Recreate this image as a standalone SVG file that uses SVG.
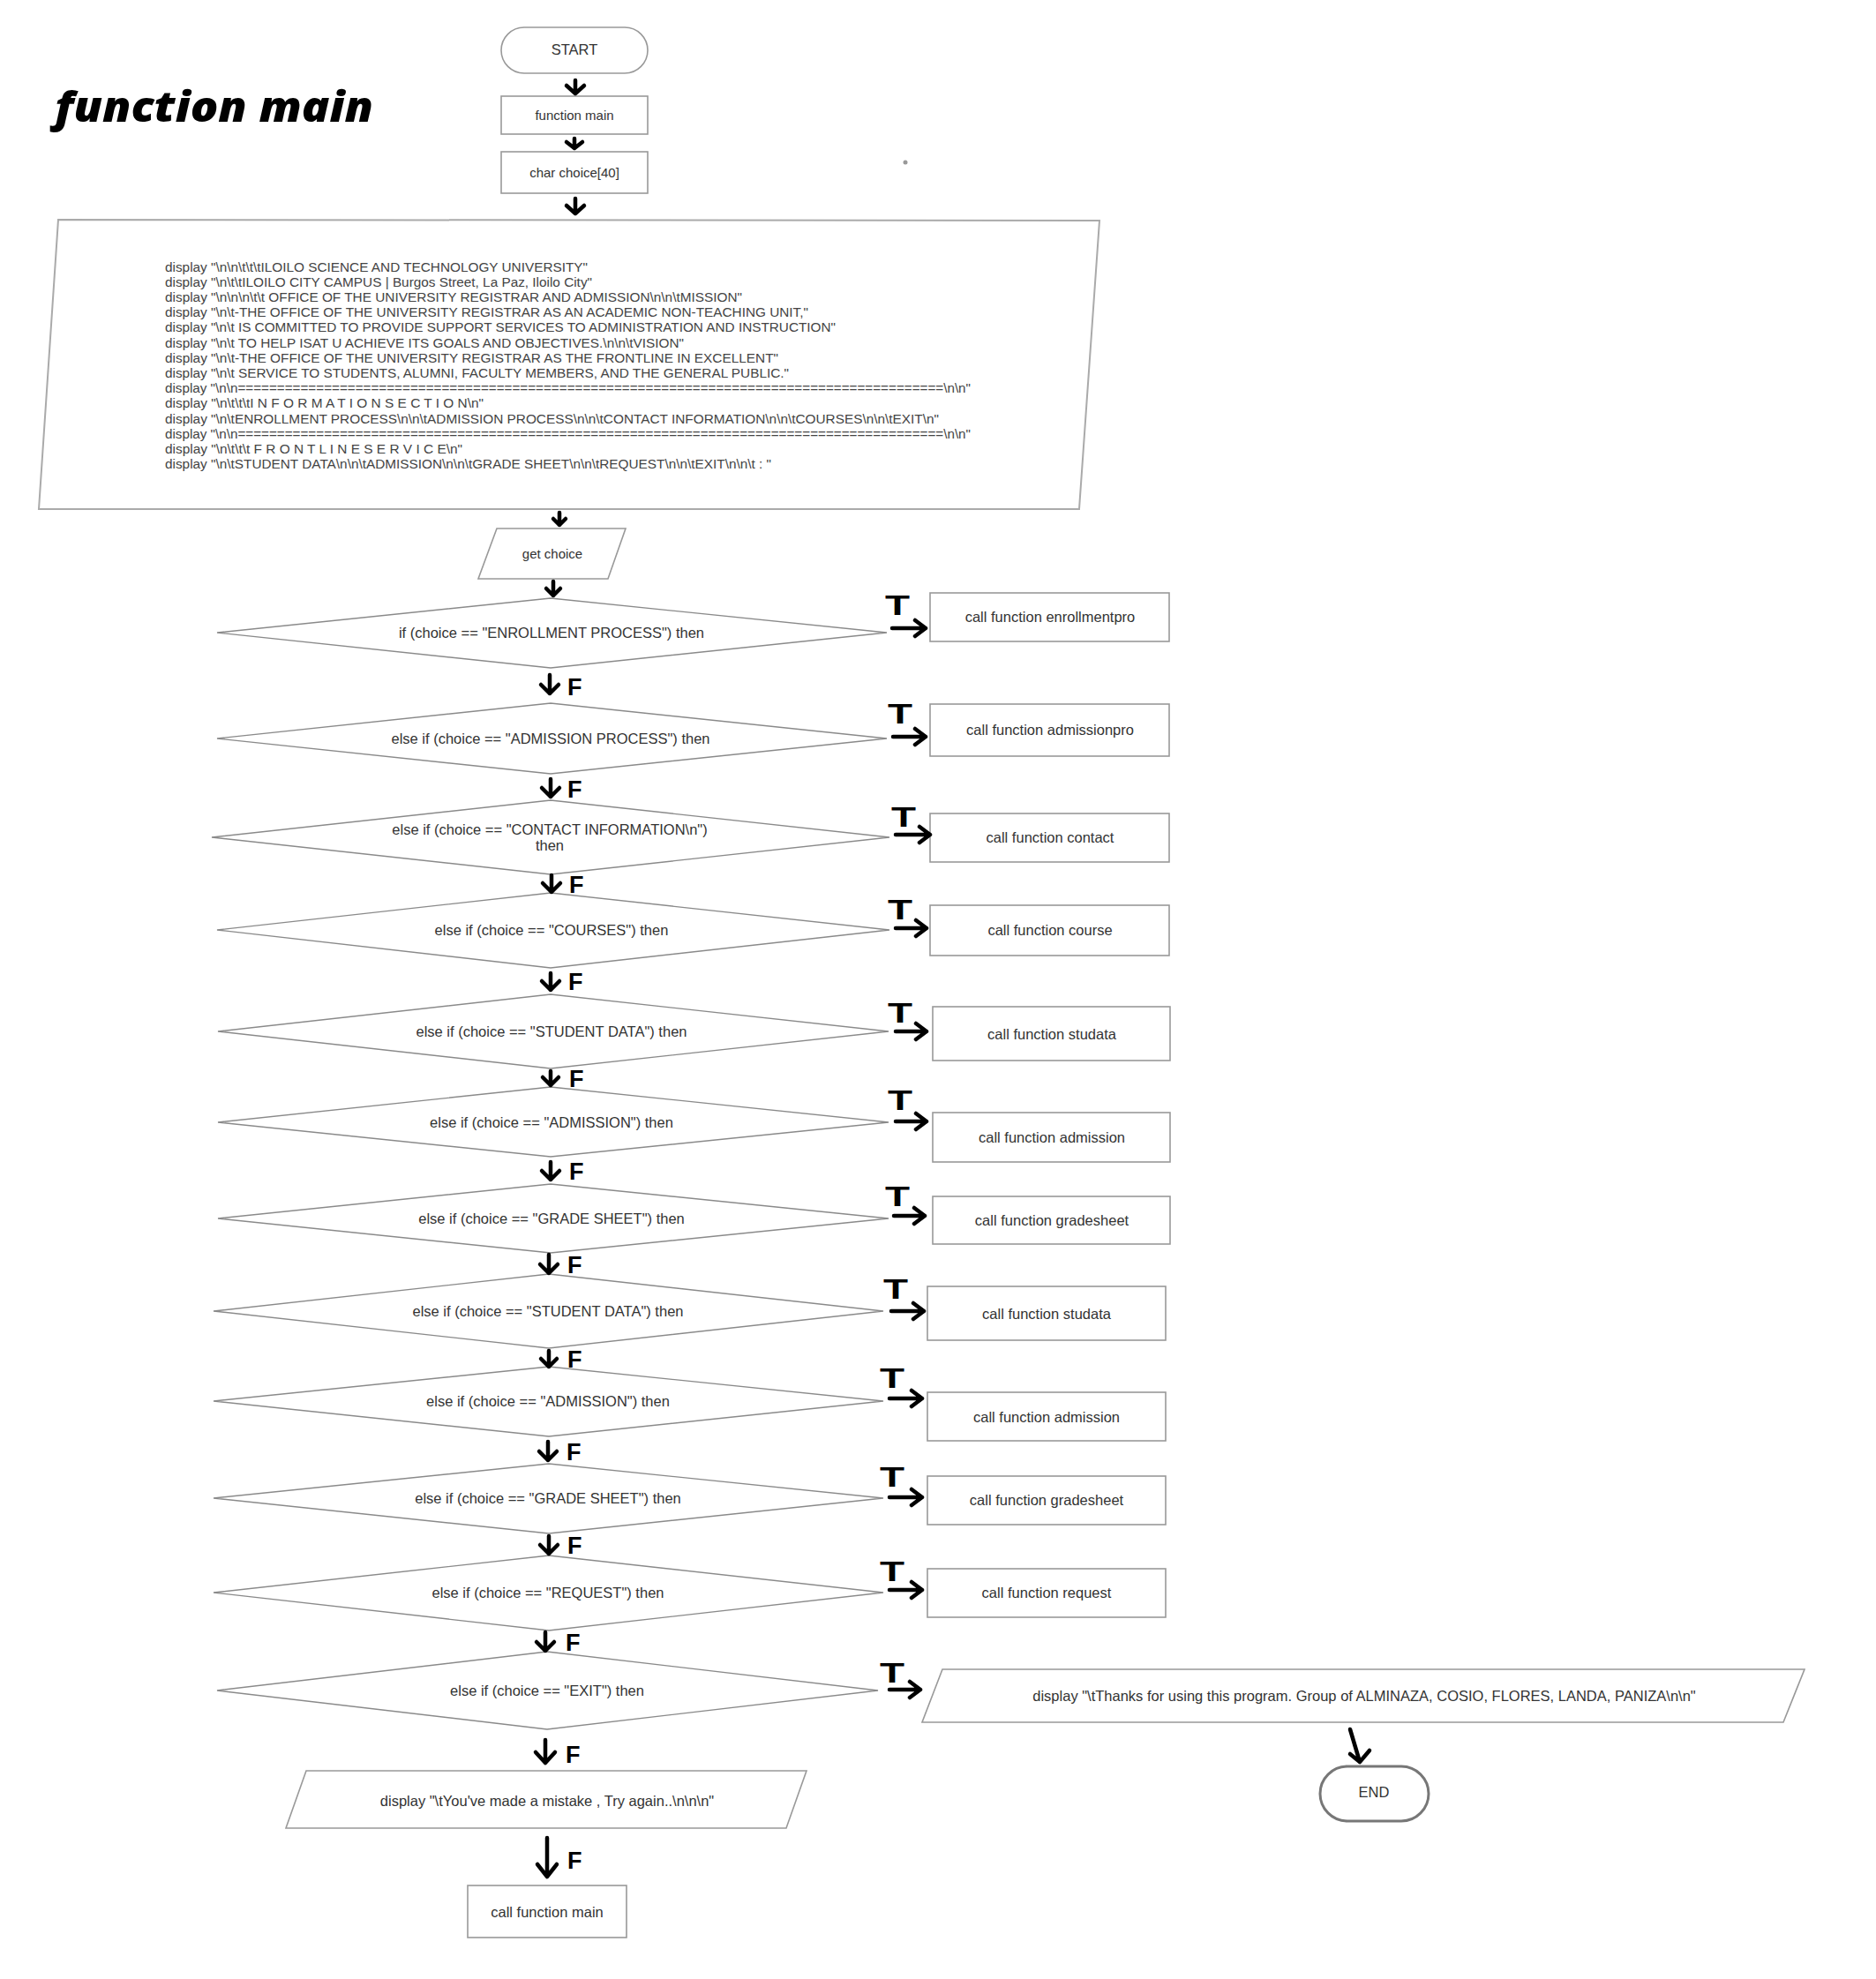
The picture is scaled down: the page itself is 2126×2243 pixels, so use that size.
<svg xmlns="http://www.w3.org/2000/svg" width="2126" height="2243" viewBox="0 0 2126 2243">
<style>
.box{fill:#fff;stroke:#999;stroke-width:1.6}
.dia{fill:#fff;stroke:#8a8a8a;stroke-width:1.4}
.lbl{font-family:"Liberation Sans",Arial,sans-serif;font-size:16.5px;fill:#333;text-anchor:middle}
.sm{font-size:15px}
.code{font-family:"Liberation Sans",Arial,sans-serif;font-size:15.2px;fill:#444}
.arr{fill:none;stroke:#000;stroke-width:4.5;stroke-linecap:round;stroke-linejoin:round}
.tl{font-family:"Liberation Sans",Arial,sans-serif;font-weight:bold;font-size:32px;fill:#000;text-anchor:middle}
.fl{font-family:"Liberation Sans",Arial,sans-serif;font-weight:bold;font-size:27px;fill:#000}
</style>
<rect width="2126" height="2243" fill="#fff"/>
<text x="62" y="138" font-family="'Open Sans','DejaVu Sans',sans-serif" font-weight="900" font-style="italic" font-size="47" fill="#000" textLength="361" lengthAdjust="spacingAndGlyphs">function main</text>
<circle cx="1026" cy="184" r="2.5" fill="#999"/>

<g id="start"><rect class="box" x="568" y="31" width="166" height="52" rx="26"/><text class="lbl" x="651" y="62" font-size="14">START</text></g>
<g id="function-main"><rect class="box" x="568" y="109" width="166" height="43"/><text class="lbl sm" x="651" y="136">function main</text></g>
<g id="char-choice"><rect class="box" x="568" y="172" width="166" height="47"/><text class="lbl sm" x="651" y="201">char choice[40]</text></g>

<g id="display-menu"><polygon class="box" points="66,249 1246,250 1223,577 44,577" style="stroke:#aaa;stroke-width:2"/>
<text class="code" x="187" y="307.5" textLength="479" lengthAdjust="spacingAndGlyphs">display "\n\n\t\t\tILOILO SCIENCE AND TECHNOLOGY UNIVERSITY"</text>
<text class="code" x="187" y="324.7" textLength="484" lengthAdjust="spacingAndGlyphs">display "\n\t\tILOILO CITY CAMPUS | Burgos Street, La Paz, Iloilo City"</text>
<text class="code" x="187" y="341.9" textLength="654" lengthAdjust="spacingAndGlyphs">display "\n\n\n\t\t OFFICE OF THE UNIVERSITY REGISTRAR AND ADMISSION\n\n\tMISSION"</text>
<text class="code" x="187" y="359.1" textLength="729" lengthAdjust="spacingAndGlyphs">display "\n\t-THE OFFICE OF THE UNIVERSITY REGISTRAR AS AN ACADEMIC NON-TEACHING UNIT,"</text>
<text class="code" x="187" y="376.3" textLength="760" lengthAdjust="spacingAndGlyphs">display "\n\t IS COMMITTED TO PROVIDE SUPPORT SERVICES TO ADMINISTRATION AND INSTRUCTION"</text>
<text class="code" x="187" y="393.5" textLength="588" lengthAdjust="spacingAndGlyphs">display "\n\t TO HELP ISAT U ACHIEVE ITS GOALS AND OBJECTIVES.\n\n\tVISION"</text>
<text class="code" x="187" y="410.7" textLength="695" lengthAdjust="spacingAndGlyphs">display "\n\t-THE OFFICE OF THE UNIVERSITY REGISTRAR AS THE FRONTLINE IN EXCELLENT"</text>
<text class="code" x="187" y="427.9" textLength="707" lengthAdjust="spacingAndGlyphs">display "\n\t SERVICE TO STUDENTS, ALUMNI, FACULTY MEMBERS, AND THE GENERAL PUBLIC."</text>
<text class="code" x="187" y="445.1" textLength="913" lengthAdjust="spacingAndGlyphs">display "\n\n==========================================================================================\n\n"</text>
<text class="code" x="187" y="462.3" textLength="361" lengthAdjust="spacingAndGlyphs">display "\n\t\t\tI N F O R M A T I O N S E C T I O N\n"</text>
<text class="code" x="187" y="479.5" textLength="877" lengthAdjust="spacingAndGlyphs">display "\n\tENROLLMENT PROCESS\n\n\tADMISSION PROCESS\n\n\tCONTACT INFORMATION\n\n\tCOURSES\n\n\tEXIT\n"</text>
<text class="code" x="187" y="496.7" textLength="913" lengthAdjust="spacingAndGlyphs">display "\n\n==========================================================================================\n\n"</text>
<text class="code" x="187" y="513.9" textLength="337" lengthAdjust="spacingAndGlyphs">display "\n\t\t\t F R O N T L I N E S E R V I C E\n"</text>
<text class="code" x="187" y="531.1" textLength="687" lengthAdjust="spacingAndGlyphs">display "\n\tSTUDENT DATA\n\n\tADMISSION\n\n\tGRADE SHEET\n\n\tREQUEST\n\n\tEXIT\n\n\t : "</text>
</g>

<g id="get-choice"><polygon class="box" points="563,599 709,599 689,656 542,656"/><text class="lbl sm" x="626" y="633">get choice</text></g>

<g id="d1"><polygon class="dia" points="246,717 624,678 1005,717 624,757"/><text class="lbl" x="625" y="723">if (choice == "ENROLLMENT PROCESS") then</text></g>
<g id="d2"><polygon class="dia" points="246,837 624,797 1005,837 624,877"/><text class="lbl" x="624" y="843">else if (choice == "ADMISSION PROCESS") then</text></g>
<g id="d3"><polygon class="dia" points="240,949 624,907 1008,949 624,991"/><text class="lbl" x="623" y="946">else if (choice == "CONTACT INFORMATION\n")</text><text class="lbl" x="623" y="964">then</text></g>
<g id="d4"><polygon class="dia" points="246,1054 624,1012 1008,1054 624,1097"/><text class="lbl" x="625" y="1060">else if (choice == "COURSES") then</text></g>
<g id="d5"><polygon class="dia" points="247,1169 624,1127 1007,1169 624,1211"/><text class="lbl" x="625" y="1175">else if (choice == "STUDENT DATA") then</text></g>
<g id="d6"><polygon class="dia" points="247,1272 624,1232 1007,1272 624,1311"/><text class="lbl" x="625" y="1278">else if (choice == "ADMISSION") then</text></g>
<g id="d7"><polygon class="dia" points="247,1381 624,1342 1007,1381 624,1420"/><text class="lbl" x="625" y="1387">else if (choice == "GRADE SHEET") then</text></g>
<g id="d8"><polygon class="dia" points="242,1486 622,1444 1001,1486 622,1528"/><text class="lbl" x="621" y="1492">else if (choice == "STUDENT DATA") then</text></g>
<g id="d9"><polygon class="dia" points="242,1588 622,1549 1001,1588 622,1628"/><text class="lbl" x="621" y="1594">else if (choice == "ADMISSION") then</text></g>
<g id="d10"><polygon class="dia" points="242,1698 622,1659 1001,1698 622,1738"/><text class="lbl" x="621" y="1704">else if (choice == "GRADE SHEET") then</text></g>
<g id="d11"><polygon class="dia" points="242,1805 622,1763 1001,1805 622,1848"/><text class="lbl" x="621" y="1811">else if (choice == "REQUEST") then</text></g>
<g id="d12"><polygon class="dia" points="246,1916 620,1872 995,1916 620,1960"/><text class="lbl" x="620" y="1922">else if (choice == "EXIT") then</text></g>

<g id="enrollmentpro"><rect class="box" x="1054" y="672" width="271" height="55"/><text class="lbl" x="1190" y="705">call function enrollmentpro</text></g>
<g id="admissionpro"><rect class="box" x="1054" y="798" width="271" height="59"/><text class="lbl" x="1190" y="833">call function admissionpro</text></g>
<g id="contact"><rect class="box" x="1054" y="922" width="271" height="55"/><text class="lbl" x="1190" y="955">call function contact</text></g>
<g id="course"><rect class="box" x="1054" y="1026" width="271" height="57"/><text class="lbl" x="1190" y="1060">call function course</text></g>
<g id="studata1"><rect class="box" x="1057" y="1141" width="269" height="61"/><text class="lbl" x="1192" y="1178">call function studata</text></g>
<g id="admission1"><rect class="box" x="1057" y="1261" width="269" height="56"/><text class="lbl" x="1192" y="1295">call function admission</text></g>
<g id="gradesheet1"><rect class="box" x="1057" y="1356" width="269" height="54"/><text class="lbl" x="1192" y="1389">call function gradesheet</text></g>
<g id="studata2"><rect class="box" x="1051" y="1458" width="270" height="61"/><text class="lbl" x="1186" y="1495">call function studata</text></g>
<g id="admission2"><rect class="box" x="1051" y="1578" width="270" height="55"/><text class="lbl" x="1186" y="1612">call function admission</text></g>
<g id="gradesheet2"><rect class="box" x="1051" y="1673" width="270" height="55"/><text class="lbl" x="1186" y="1706">call function gradesheet</text></g>
<g id="request"><rect class="box" x="1051" y="1778" width="270" height="55"/><text class="lbl" x="1186" y="1811">call function request</text></g>

<g id="display-thanks"><polygon class="box" points="1068,1892 2045,1892 2021,1952 1045,1952"/><text class="lbl" x="1546" y="1928">display "\tThanks for using this program. Group of ALMINAZA, COSIO, FLORES, LANDA, PANIZA\n\n"</text></g>
<g id="end"><rect x="1496" y="2002" width="123" height="62" rx="31" fill="#fff" stroke="#777" stroke-width="3"/><text class="lbl" x="1557" y="2037" font-size="11.5">END</text></g>
<g id="display-mistake"><polygon class="box" points="347,2007 914,2007 891,2072 324,2072"/><text class="lbl" x="620" y="2047">display "\tYou've made a mistake , Try again..\n\n\n"</text></g>
<g id="call-main"><rect class="box" x="530" y="2137" width="180" height="59"/><text class="lbl" x="620" y="2173">call function main</text></g>

<g id="connectors">
<path class="arr" d="M652 91V106M642 97L652 106L662 97"/>
<path class="arr" d="M651 157V168M642 161L651 168L660 161"/>
<path class="arr" d="M652 225V242M642 233L652 242L662 233"/>
<path class="arr" d="M634 581V595M627 588L634 595L641 588"/>
<path class="arr" d="M627 659V675M619 667L627 675L635 667"/>
<path class="arr" d="M623 765V786M613 776L623 786L633 776"/>
<path class="arr" d="M624 883V903M614 893L624 903L634 893"/>
<path class="arr" d="M625 992V1011M615 1001L625 1011L635 1001"/>
<path class="arr" d="M624 1103V1122M614 1112L624 1122L634 1112"/>
<path class="arr" d="M624 1214V1230M615 1221L624 1230L633 1221"/>
<path class="arr" d="M624 1317V1337M614 1327L624 1337L634 1327"/>
<path class="arr" d="M622 1422V1443M612 1433L622 1443L632 1433"/>
<path class="arr" d="M622 1531V1549M613 1540L622 1549L631 1540"/>
<path class="arr" d="M621 1634V1655M611 1645L621 1655L631 1645"/>
<path class="arr" d="M622 1741V1761M612 1751L622 1761L632 1751"/>
<path class="arr" d="M618 1850V1871M608 1861L618 1871L628 1861"/>
<path class="arr" d="M618 1972V1998M607 1986L618 1998L629 1986"/>
<path class="arr" d="M620 2083V2127M609 2113L620 2127L631 2113"/>
<path class="arr" d="M1011 712H1049M1037 703L1049 712L1037 721"/>
<path class="arr" d="M1012 835H1049M1037 826L1049 835L1037 844"/>
<path class="arr" d="M1015 946H1054M1042 937L1054 946L1042 955"/>
<path class="arr" d="M1015 1052H1050M1038 1043L1050 1052L1038 1061"/>
<path class="arr" d="M1015 1169H1050M1038 1160L1050 1169L1038 1178"/>
<path class="arr" d="M1015 1271H1050M1038 1262L1050 1271L1038 1280"/>
<path class="arr" d="M1013 1378H1048M1036 1369L1048 1378L1036 1387"/>
<path class="arr" d="M1010 1486H1047M1035 1477L1047 1486L1035 1495"/>
<path class="arr" d="M1008 1585H1045M1033 1576L1045 1585L1033 1594"/>
<path class="arr" d="M1008 1697H1045M1033 1688L1045 1697L1033 1706"/>
<path class="arr" d="M1008 1802H1045M1033 1793L1045 1802L1033 1811"/>
<path class="arr" d="M1008 1915H1043M1031 1906L1043 1915L1031 1924"/>
<path class="arr" d="M1530 1960L1541 1997M1530 1988L1541 1997L1552 1984"/>
<text class="fl" x="643" y="788">F</text>
<text class="fl" x="643" y="904">F</text>
<text class="fl" x="645" y="1012">F</text>
<text class="fl" x="644" y="1122">F</text>
<text class="fl" x="645" y="1232">F</text>
<text class="fl" x="645" y="1337">F</text>
<text class="fl" x="643" y="1443">F</text>
<text class="fl" x="643" y="1550">F</text>
<text class="fl" x="642" y="1655">F</text>
<text class="fl" x="643" y="1761">F</text>
<text class="fl" x="641" y="1871">F</text>
<text class="fl" x="641" y="1998" font-size="34">F</text>
<text class="fl" x="643" y="2118" font-size="36">F</text>
<text class="tl" x="1017" y="697" textLength="28" lengthAdjust="spacingAndGlyphs">T</text>
<text class="tl" x="1020" y="820" textLength="28" lengthAdjust="spacingAndGlyphs">T</text>
<text class="tl" x="1024" y="937" textLength="28" lengthAdjust="spacingAndGlyphs">T</text>
<text class="tl" x="1020" y="1042" textLength="28" lengthAdjust="spacingAndGlyphs">T</text>
<text class="tl" x="1020" y="1159" textLength="28" lengthAdjust="spacingAndGlyphs">T</text>
<text class="tl" x="1020" y="1258" textLength="28" lengthAdjust="spacingAndGlyphs">T</text>
<text class="tl" x="1017" y="1367" textLength="28" lengthAdjust="spacingAndGlyphs">T</text>
<text class="tl" x="1015" y="1472" textLength="28" lengthAdjust="spacingAndGlyphs">T</text>
<text class="tl" x="1011" y="1573" textLength="28" lengthAdjust="spacingAndGlyphs">T</text>
<text class="tl" x="1011" y="1685" textLength="28" lengthAdjust="spacingAndGlyphs">T</text>
<text class="tl" x="1011" y="1792" textLength="28" lengthAdjust="spacingAndGlyphs">T</text>
<text class="tl" x="1011" y="1907" textLength="28" lengthAdjust="spacingAndGlyphs">T</text>
</g>
</svg>
